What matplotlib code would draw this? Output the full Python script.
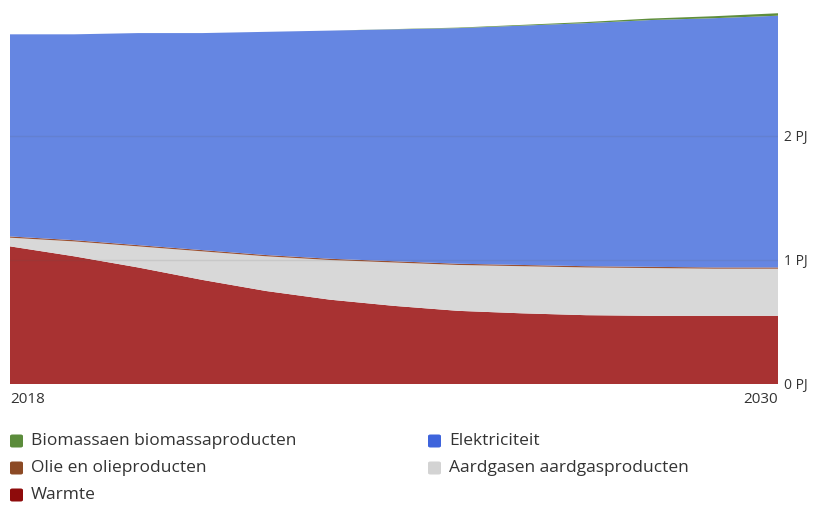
import matplotlib
matplotlib.use("Agg")
import matplotlib.pyplot as plt
from matplotlib.patches import FancyBboxPatch

plt.rcParams['font.family'] = ['Open Sans', 'DejaVu Sans']

years = list(range(2018, 2031))

# Energy use per carrier (PJ), stacked bottom to top
warmte = [1.11, 1.03, 0.94, 0.84, 0.75, 0.68, 0.63, 0.59, 0.57, 0.555, 0.55, 0.55, 0.55]
aardgas = [0.07, 0.12, 0.17, 0.23, 0.28, 0.32, 0.35, 0.37, 0.38, 0.385, 0.385, 0.38, 0.38]
olie = [0.01, 0.01, 0.01, 0.01, 0.01, 0.01, 0.01, 0.01, 0.01, 0.01, 0.01, 0.01, 0.01]
elektriciteit = [1.63, 1.66, 1.71, 1.75, 1.80, 1.84, 1.87, 1.90, 1.93, 1.96, 1.99, 2.01, 2.03]
biomassa = [0.0, 0.0, 0.0, 0.0, 0.0, 0.0, 0.002, 0.004, 0.006, 0.009, 0.012, 0.016, 0.02]

y_ticks = [0, 1, 2]
y_tick_labels = ["0 PJ", "1 PJ", "2 PJ"]

series = [
    ("Warmte", warmte, "#a83232", "#8e0b0b"),
    ("Aardgasen aardgasproducten", aardgas, "#d8d8d8", "#d3d3d3"),
    ("Olie en olieproducten", olie, "#9a5030", "#8c4a25"),
    ("Elektriciteit", elektriciteit, "#6586e2", "#3e64dc"),
    ("Biomassaen biomassaproducten", biomassa, "#5f8e3c", "#5b8c3b"),
]

fig = plt.figure(figsize=(8.15, 5.05), dpi=100)
ax = fig.add_axes([10 / 815, 1 - 384 / 505, 768 / 815, 372 / 505])

ax.stackplot(years, *[s[1] for s in series], colors=[s[2] for s in series],
             linewidth=0)

for t in y_ticks[1:]:
    ax.axhline(t, color="#555555", alpha=0.12, linewidth=1, zorder=5)

ax.set_xlim(2018, 2030)
ax.set_ylim(0, 3.0)
for sp in ax.spines.values():
    sp.set_visible(False)
ax.yaxis.tick_right()
ax.set_yticks(y_ticks)
ax.set_yticklabels(y_tick_labels, fontsize=10, color="#333333")
ax.tick_params(axis="y", length=0, pad=4)
ax.set_xticks([2018, 2030])
ax.set_xticklabels(["2018", "2030"], fontsize=11, color="#333333")
ax.tick_params(axis="x", length=0, pad=6)
xl = ax.get_xticklabels()
xl[0].set_ha("left")
xl[1].set_ha("right")

# Legend, two columns
legend_items = [
    ("Biomassaen biomassaproducten", "#5b8c3b", 10, 441),
    ("Olie en olieproducten", "#8c4a25", 10, 468),
    ("Warmte", "#8e0b0b", 10, 495),
    ("Elektriciteit", "#3e64dc", 428, 441),
    ("Aardgasen aardgasproducten", "#d3d3d3", 428, 468),
]
W, H = 815, 505
for label, color, px, py in legend_items:
    box = FancyBboxPatch((px / W, (H - py - 6.5) / H), 13 / W, 13 / H,
                         boxstyle="round,pad=0,rounding_size=0.003",
                         transform=fig.transFigure, facecolor=color,
                         edgecolor="none")
    fig.add_artist(box)
    fig.text((px + 21) / W, (H - py) / H, label, fontsize=12.5,
             color="#333333", va="center", ha="left")

fig.savefig("out.png", dpi=100, facecolor="white")
